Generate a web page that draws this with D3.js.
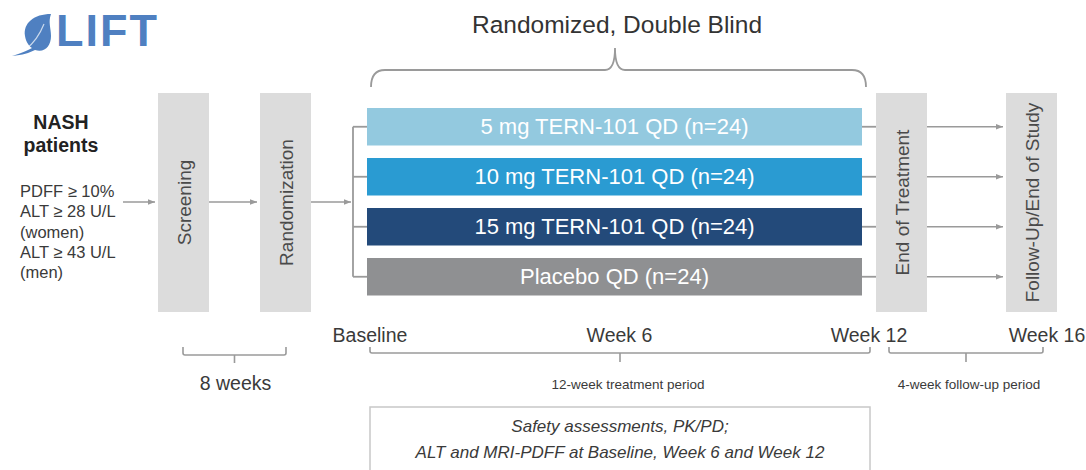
<!DOCTYPE html>
<html><head><meta charset="utf-8">
<script src="https://cdn.jsdelivr.net/npm/d3@7"></script>
<style>
html,body{margin:0;padding:0;background:#fff;}
svg{display:block;font-family:"Liberation Sans",Arial,sans-serif;}
</style></head>
<body><svg id="c" width="1086" height="470"></svg>
<script>
// ---- data ----
const arms = ["5 mg TERN-101 QD (n=24)", "10 mg TERN-101 QD (n=24)", "15 mg TERN-101 QD (n=24)", "Placebo QD (n=24)"];
const armColors = ["#93c9df", "#2a9bd2", "#234a7a", "#8f9092"];
const stages = ["Screening", "Randomization", "End of Treatment", "Follow-Up/End of Study"];
const timepoints = ["Baseline", "Week 6", "Week 12", "Week 16"];
const timepointWeeks = [0, 6, 12, 16];
const criteria = ["PDFF \u2265 10%", "ALT \u2265 28 U/L", "(women)", "ALT \u2265 43 U/L", "(men)"];
const populationLabel = ["NASH", "patients"];
const periods = ["8 weeks", "12-week treatment period", "4-week follow-up period"];
const title = "Randomized, Double Blind";
const assessments = ["Safety assessments, PK/PD;", "ALT and MRI-PDFF at Baseline, Week 6 and Week 12"];
const logoText = "LIFT";

// ---- layout ----
const svg = d3.select("#c");
const gray = "#9a9a9a", txt = "#3a3a3a", boxFill = "#dcdcdc";

const x = d3.scaleLinear().domain([0, 12, 16]).range([370, 869, 1047]);
const y = d3.scaleBand().domain(arms).range([108, 295.5]).paddingInner(0.25);
const color = d3.scaleOrdinal().domain(arms).range(armColors);

svg.append("defs").append("marker").attr("id", "ah")
  .attr("viewBox", "0 0 10 10").attr("refX", 10).attr("refY", 5)
  .attr("markerWidth", 7).attr("markerHeight", 7).attr("markerUnits", "userSpaceOnUse")
  .attr("orient", "auto")
  .append("path").attr("d", "M0,1 L10,5 L0,9 Z").attr("fill", gray);

// logo
const logo = svg.append("g").attr("fill", "#4f80c1");
logo.append("path").attr("d", "M51,14 C34,14 23,23 25,36 C26,42 29,46 32,48 C27,51 21,53 12,56 C23,55 29,53 35,50 C45,53 51,46 51,36 C51,28 48,22 51,14 Z");
logo.append("path").attr("d", "M44,24 C40,34 34,43 26,49").attr("stroke", "#fff").attr("stroke-width", 1.2).attr("fill", "none").attr("opacity", 0.7);
logo.append("text").attr("x", 56).attr("y", 46).attr("font-size", 45).attr("font-weight", "bold")
  .attr("letter-spacing", 2).text(logoText);

// population
svg.append("g").selectAll("text").data(populationLabel).join("text")
  .attr("x", 61).attr("y", (d, i) => 129 + i * 23).attr("text-anchor", "middle")
  .attr("font-size", 19.5).attr("font-weight", "bold").attr("fill", "#222").text(d => d);
svg.append("g").selectAll("text").data(criteria).join("text")
  .attr("x", 20).attr("y", (d, i) => 197 + i * 20.3)
  .attr("font-size", 16.5).attr("fill", txt).text(d => d);

// stage boxes
const stageX = [158, 260, 876, 1006];
const boxW = 51, boxTop = 93, boxBot = 312;
const sg = svg.append("g").selectAll("g").data(stages).join("g")
  .attr("transform", (d, i) => `translate(${stageX[i]},${boxTop})`);
sg.append("rect").attr("width", boxW).attr("height", boxBot - boxTop).attr("fill", boxFill);
sg.append("text").attr("transform", `translate(${boxW / 2 + 7},${(boxBot - boxTop) / 2}) rotate(-90)`)
  .attr("text-anchor", "middle").attr("font-size", 19).attr("fill", "#4a4a4a").text(d => d);

// arrows
const mid = 202;
const arrows = [[123, 155], [209, 257], [311, 351]];
svg.append("g").selectAll("line").data(arrows).join("line")
  .attr("x1", d => d[0]).attr("x2", d => d[1]).attr("y1", mid).attr("y2", mid)
  .attr("stroke", gray).attr("stroke-width", 1.5).attr("marker-end", "url(#ah)");

// branching
const bx = 353;
const cy = d => y(d) + y.bandwidth() / 2;
svg.append("line").attr("x1", bx).attr("x2", bx).attr("y1", cy(arms[0])).attr("y2", cy(arms[3]))
  .attr("stroke", gray).attr("stroke-width", 1.8);
svg.append("g").selectAll("line").data(arms).join("line")
  .attr("x1", bx).attr("x2", 367).attr("y1", cy).attr("y2", cy).attr("stroke", gray).attr("stroke-width", 1.8);
svg.append("g").selectAll("line").data(arms).join("line")
  .attr("x1", 862).attr("x2", 876).attr("y1", cy).attr("y2", cy).attr("stroke", gray).attr("stroke-width", 1.8);
svg.append("g").selectAll("line").data(arms).join("line")
  .attr("x1", 927).attr("x2", 1003).attr("y1", cy).attr("y2", cy)
  .attr("stroke", gray).attr("stroke-width", 1.5).attr("marker-end", "url(#ah)");

// arm bars
const bars = svg.append("g").selectAll("g").data(arms).join("g");
bars.append("rect").attr("x", 367).attr("width", 862 - 367).attr("y", d => y(d)).attr("height", y.bandwidth())
  .attr("fill", d => color(d));
bars.append("text").attr("x", (367 + 862) / 2).attr("y", d => cy(d) + 7.5).attr("text-anchor", "middle")
  .attr("font-size", 22).attr("fill", "#fff").text(d => d);

// title and brace
svg.append("text").attr("x", 617).attr("y", 33).attr("text-anchor", "middle")
  .attr("font-size", 24.5).attr("fill", "#333").text(title);
const bL = 371, bR = 866, bC = 615, bTop = 48, bH = 70, bBot = 87;
svg.append("path").attr("d",
  `M${bL},${bBot} Q${bL},${bH} ${bL + 14},${bH} L${bC - 10},${bH} Q${bC},${bH} ${bC},${bTop} Q${bC},${bH} ${bC + 10},${bH} L${bR - 14},${bH} Q${bR},${bH} ${bR},${bBot}`)
  .attr("fill", "none").attr("stroke", gray).attr("stroke-width", 1.8);

// timepoint labels
svg.append("g").selectAll("text").data(timepoints).join("text")
  .attr("x", (d, i) => x(timepointWeeks[i])).attr("y", 342).attr("text-anchor", "middle")
  .attr("font-size", 19.5).attr("fill", txt).text(d => d);

// period brackets
function bracket(x0, x1, yTop, yH, tickLen) {
  const xm = (x0 + x1) / 2;
  svg.append("path").attr("d", `M${x0},${yTop} L${x0},${yH - 2} Q${x0},${yH} ${x0 + 2},${yH} L${x1 - 2},${yH} Q${x1},${yH} ${x1},${yH - 2} L${x1},${yTop} M${xm},${yH} L${xm},${yH + tickLen}`)
    .attr("fill", "none").attr("stroke", gray).attr("stroke-width", 1.6);
  return xm;
}
const m8 = bracket(183, 286, 347, 355, 8);
svg.append("text").attr("x", m8 + 1).attr("y", 390).attr("text-anchor", "middle").attr("font-size", 19.5).attr("fill", txt).text(periods[0]);
const m12 = bracket(x(0), x(12) + 1, 347, 353, 9);
svg.append("text").attr("x", m12 + 8).attr("y", 389).attr("text-anchor", "middle").attr("font-size", 13.5).attr("fill", txt).text(periods[1]);
const m4 = bracket(889, 1043, 347, 353, 9);
svg.append("text").attr("x", m4 + 3).attr("y", 389).attr("text-anchor", "middle").attr("font-size", 13.5).attr("fill", txt).text(periods[2]);

// assessments box
svg.append("rect").attr("x", x(0)).attr("y", 407).attr("width", x(12) + 1 - x(0)).attr("height", 80)
  .attr("fill", "#fff").attr("stroke", "#c8c8c8").attr("stroke-width", 1.5);
svg.append("g").selectAll("text").data(assessments).join("text")
  .attr("x", 620).attr("y", (d, i) => 432 + i * 26).attr("text-anchor", "middle")
  .attr("font-size", 17).attr("font-style", "italic").attr("fill", txt).text(d => d);
</script></body></html>
